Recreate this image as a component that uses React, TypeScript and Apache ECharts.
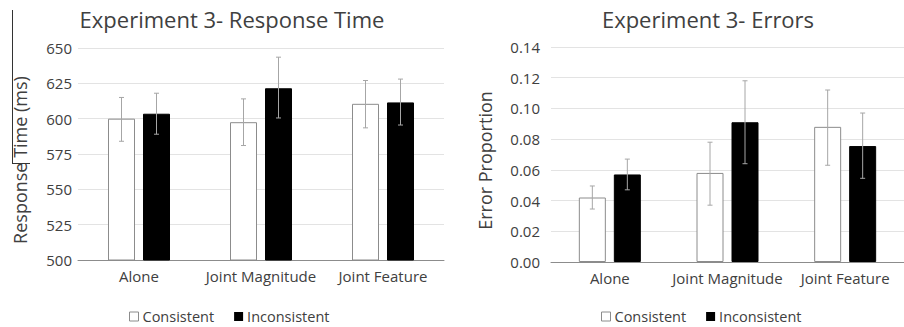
import React, { useEffect, useRef } from "react";
import * as echarts from "echarts";

const categories = ["Alone", "Joint Magnitude", "Joint Feature"];
const seriesNames = ["Consistent", "Inconsistent"];

const rtConsistent = [600, 597.5, 610.5];
const rtInconsistent = [603.5, 621.5, 611.5];
const rtConsistentErr = [[584, 615], [581, 614], [593.5, 627]];
const rtInconsistentErr = [[589, 618], [600.5, 643.5], [595.5, 628]];

const erConsistent = [0.042, 0.058, 0.088];
const erInconsistent = [0.057, 0.091, 0.0755];
const erConsistentErr = [[0.0345, 0.0495], [0.037, 0.078], [0.063, 0.112]];
const erInconsistentErr = [[0.047, 0.067], [0.064, 0.118], [0.0545, 0.097]];

const FONT = "Open Sans";
const TXT = "#404040";
const BAR_W = 27;
const GAP = 8;

function errSeries(name: string, ranges: number[][], sign: number, axisIndex: number) {
  return {
    type: "custom",
    name: name + " err",
    xAxisIndex: axisIndex,
    yAxisIndex: axisIndex,
    z: 10,
    silent: true,
    renderItem: (params: any, api: any) => {
      const x = api.value(0);
      const lo = api.coord([x, api.value(1)]);
      const hi = api.coord([x, api.value(2)]);
      const cx = lo[0] + (sign * (BAR_W + GAP)) / 2;
      const style = { stroke: "#a6a6a6", lineWidth: 1 };
      const cap = 2.5;
      return {
        type: "group",
        children: [
          { type: "line", shape: { x1: cx, y1: lo[1], x2: cx, y2: hi[1] }, style },
          { type: "line", shape: { x1: cx - cap, y1: lo[1], x2: cx + cap, y2: lo[1] }, style },
          { type: "line", shape: { x1: cx - cap, y1: hi[1], x2: cx + cap, y2: hi[1] }, style },
        ],
      };
    },
    data: ranges.map((r, i) => [i, r[0], r[1]]),
  };
}

function barSeries(name: string, data: number[], idx: number, consistent: boolean) {
  return {
    type: "bar",
    name,
    xAxisIndex: idx,
    yAxisIndex: idx,
    barWidth: BAR_W,
    barGap: (GAP / BAR_W) * 100 + "%",
    itemStyle: consistent
      ? { color: "#ffffff", borderColor: "#8c8c8c", borderWidth: 1 }
      : { color: "#000000", borderColor: "#000000", borderWidth: 1 },
    data,
  };
}

export default function App() {
  const ref = useRef<HTMLDivElement>(null);
  useEffect(() => {
    if (!ref.current) return;
    const chart = echarts.init(ref.current, null, { renderer: "svg" });
    const axisLabel = { color: TXT, fontFamily: FONT, fontSize: 15 };
    const legendBase = {
      data: seriesNames.map((n, i) => ({
        name: n,
        itemStyle: i === 0 ? { color: "#fff", borderColor: "#8c8c8c", borderWidth: 1 } : { color: "#000", borderWidth: 0 },
      })),
      selectedMode: false,
      itemWidth: 9,
      itemHeight: 9,
      itemGap: 20,
      icon: "rect",
      top: 304,
      textStyle: { color: TXT, fontFamily: FONT, fontSize: 14.5, padding: [0, 0, 0, -1] },
    };
    const titleStyle = { color: TXT, fontFamily: FONT, fontSize: 22, fontWeight: "normal" };
    const nameStyle = { color: TXT, fontFamily: FONT, fontSize: 18, padding: [0, 12, 0, 0] };
    chart.setOption({
      animation: false,
      backgroundColor: "#ffffff",
      title: [
        { text: "Experiment 3- Response Time", left: 227, textAlign: "center", top: 3, textStyle: titleStyle },
        { text: "Experiment 3- Errors", left: 703, textAlign: "center", top: 3, textStyle: titleStyle },
      ],
      legend: [
        { ...legendBase, left: 124 },
        { ...legendBase, left: 596 },
      ],
      grid: [
        { left: 78, right: 460, top: 48, bottom: 67 },
        { left: 551, right: 0, top: 47, bottom: 65 },
      ],
      xAxis: [0, 1].map((i) => ({
        type: "category",
        gridIndex: i,
        data: categories,
        axisLine: { lineStyle: { color: "#8c8c8c", width: 1 } },
        axisTick: { show: false },
        axisLabel: { ...axisLabel, margin: 8, interval: 0 },
      })),
      yAxis: [
        {
          type: "value",
          gridIndex: 0,
          min: 500,
          max: 650,
          interval: 25,
          name: "Response Time (ms)",
          nameLocation: "middle",
          nameGap: 49,
          nameTextStyle: nameStyle,
          axisLabel: { ...axisLabel, margin: 6 },
          axisLine: { show: false },
          axisTick: { show: false },
          splitLine: { lineStyle: { color: "#e3e3e3" } },
        },
        {
          type: "value",
          gridIndex: 1,
          min: 0,
          max: 0.14,
          interval: 0.02,
          name: "Error Proportion",
          nameLocation: "middle",
          nameGap: 57,
          nameTextStyle: nameStyle,
          axisLabel: { ...axisLabel, margin: 11, formatter: (v: number) => v.toFixed(2) },
          axisLine: { show: false },
          axisTick: { show: false },
          splitLine: { lineStyle: { color: "#e3e3e3" } },
        },
      ],
      graphic: [
        { type: "line", shape: { x1: 12.5, y1: 10, x2: 12.5, y2: 164 }, style: { stroke: "#333", lineWidth: 1 } },
        { type: "line", shape: { x1: 12, y1: 163.5, x2: 30, y2: 163.5 }, style: { stroke: "#333", lineWidth: 1 } },
      ],
      series: [
        barSeries("Consistent", rtConsistent, 0, true),
        barSeries("Inconsistent", rtInconsistent, 0, false),
        errSeries("Consistent", rtConsistentErr, -1, 0),
        errSeries("Inconsistent", rtInconsistentErr, 1, 0),
        barSeries("Consistent", erConsistent, 1, true),
        barSeries("Inconsistent", erInconsistent, 1, false),
        errSeries("Consistent", erConsistentErr, -1, 1),
        errSeries("Inconsistent", erInconsistentErr, 1, 1),
      ],
    });
    return () => chart.dispose();
  }, []);
  return <div ref={ref} style={{ width: 904, height: 327, position: "absolute", left: 0, top: 0 }} />;
}
